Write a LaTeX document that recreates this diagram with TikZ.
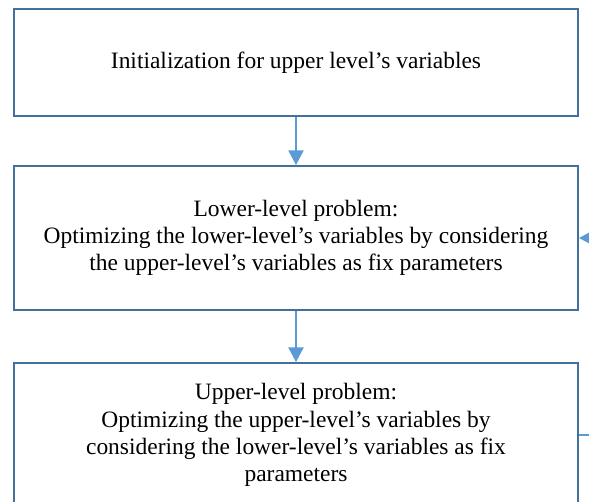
\documentclass[tikz,border=0pt]{standalone}
\usepackage{fontspec}
\setmainfont{Liberation Serif}
\usepackage{tikz}
\definecolor{boxline}{HTML}{41719C}
\definecolor{arrowline}{HTML}{5B9BD5}
\tikzset{
    stage/.style={draw=boxline, line width=1.5pt, rectangle, fill=white, minimum width=423pt, align=center, font=\fontsize{17.6}{20.4}\selectfont},
    initstage/.style={stage, minimum height=80.25pt},
    solvestage/.style={stage, minimum height=108pt},
    flow/.style = {-{Triangle[length=11pt,width=11.5pt]}, color=arrowline, line width=1pt} }
\usetikzlibrary{positioning, arrows.meta}

\begin{document}
\begin{tikzpicture}[node distance=36pt]
			\useasboundingbox (0,0) rectangle (441.75pt,-375.75pt);
			\node[initstage, anchor=north west] (init) at (9.75pt,-6pt) {Initialization for upper level's variables};
			\node[solvestage, below = of init] (lower) {Lower-level problem:\\ Optimizing the lower-level's variables by considering\\ the upper-level's variables as fix parameters};
			\node[solvestage, below = 38.25pt of lower] (upper) {Upper-level problem:\\ Optimizing the upper-level's variables by\\ considering the lower-level's variables as fix\\ parameters};
			% ----
			\draw[flow] (init) -- (lower);
			\draw[flow] (lower) -- (upper);
			% ----
			\draw[flow] (upper.east) -- ++(20pt,0) |- (lower.east);
		\end{tikzpicture}
\end{document}
